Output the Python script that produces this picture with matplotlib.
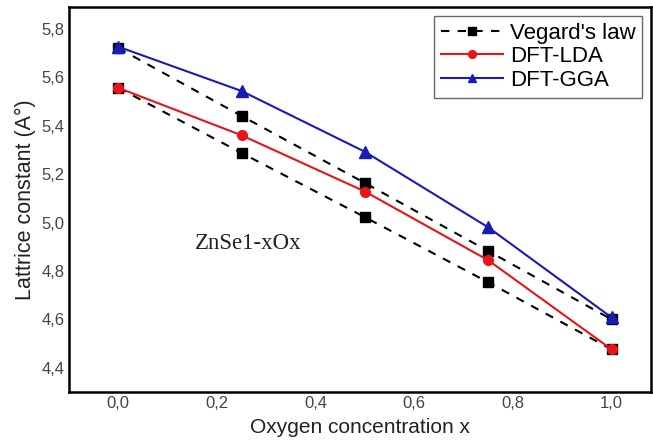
import matplotlib.pyplot as plt

# Data
x = [0.0, 0.25, 0.5, 0.75, 1.0]
vegard_upper = [5.72, 5.44, 5.163, 4.882, 4.60]
vegard_lower = [5.556, 5.287, 5.022, 4.753, 4.476]
dft_lda = [5.556, 5.36, 5.128, 4.844, 4.476]
dft_gga = [5.726, 5.543, 5.292, 4.98, 4.608]

xticks = [0.0, 0.2, 0.4, 0.6, 0.8, 1.0]
yticks = [4.4, 4.6, 4.8, 5.0, 5.2, 5.4, 5.6, 5.8]

plt.rcParams['font.family'] = ['Liberation Sans', 'DejaVu Sans']

fig = plt.figure(figsize=(6.53, 4.41), dpi=100)
ax = fig.add_axes([69 / 653, 1 - 392 / 441, 582 / 653, 385 / 441])

ax.plot(x, vegard_upper, '--', color='black', marker='s', markersize=7,
        linewidth=1.5, dashes=(4, 4), label="Vegard's law")
ax.plot(x, vegard_lower, '--', color='black', marker='s', markersize=7,
        linewidth=1.5, dashes=(4, 4))
ax.plot(x, dft_lda, '-', color='#e8141a', marker='o', markersize=7,
        linewidth=1.5, label='DFT-LDA')
ax.plot(x, dft_gga, '-', color='#1a1ab4', marker='^', markersize=8,
        linewidth=1.5, label='DFT-GGA')

ax.set_xlim(-0.1, 1.08)
ax.set_ylim(4.3, 5.89)
ax.set_xticks(xticks)
ax.set_yticks(yticks)
ax.set_xticklabels([f"{v:.1f}".replace('.', ',') for v in xticks])
ax.set_yticklabels([f"{v:.1f}".replace('.', ',') for v in yticks])
ax.tick_params(length=0, labelsize=12, labelcolor='#444444')
ax.tick_params(axis='x', pad=3)
ax.tick_params(axis='y', pad=3)

for s in ax.spines.values():
    s.set_linewidth(1.8)

ax.set_xlabel('Oxygen concentration x', fontsize=15, color='#222222', labelpad=5)
ax.set_ylabel('Lattrice constant (A°)', fontsize=15.5, color='#222222', labelpad=4)

ax.text(0.155, 4.915, 'ZnSe1-xOx', fontsize=16.5, family='Liberation Serif',
        color='#222222', va='center')

leg = ax.legend(loc='upper right', fontsize=16, frameon=True, fancybox=False,
                edgecolor='#444444', handlelength=2.8, borderpad=0.3,
                labelspacing=0.12, handletextpad=0.3, borderaxespad=0.4,
                markerscale=0.8)
leg.get_frame().set_linewidth(1.0)

fig.savefig('out.png', dpi=100)
